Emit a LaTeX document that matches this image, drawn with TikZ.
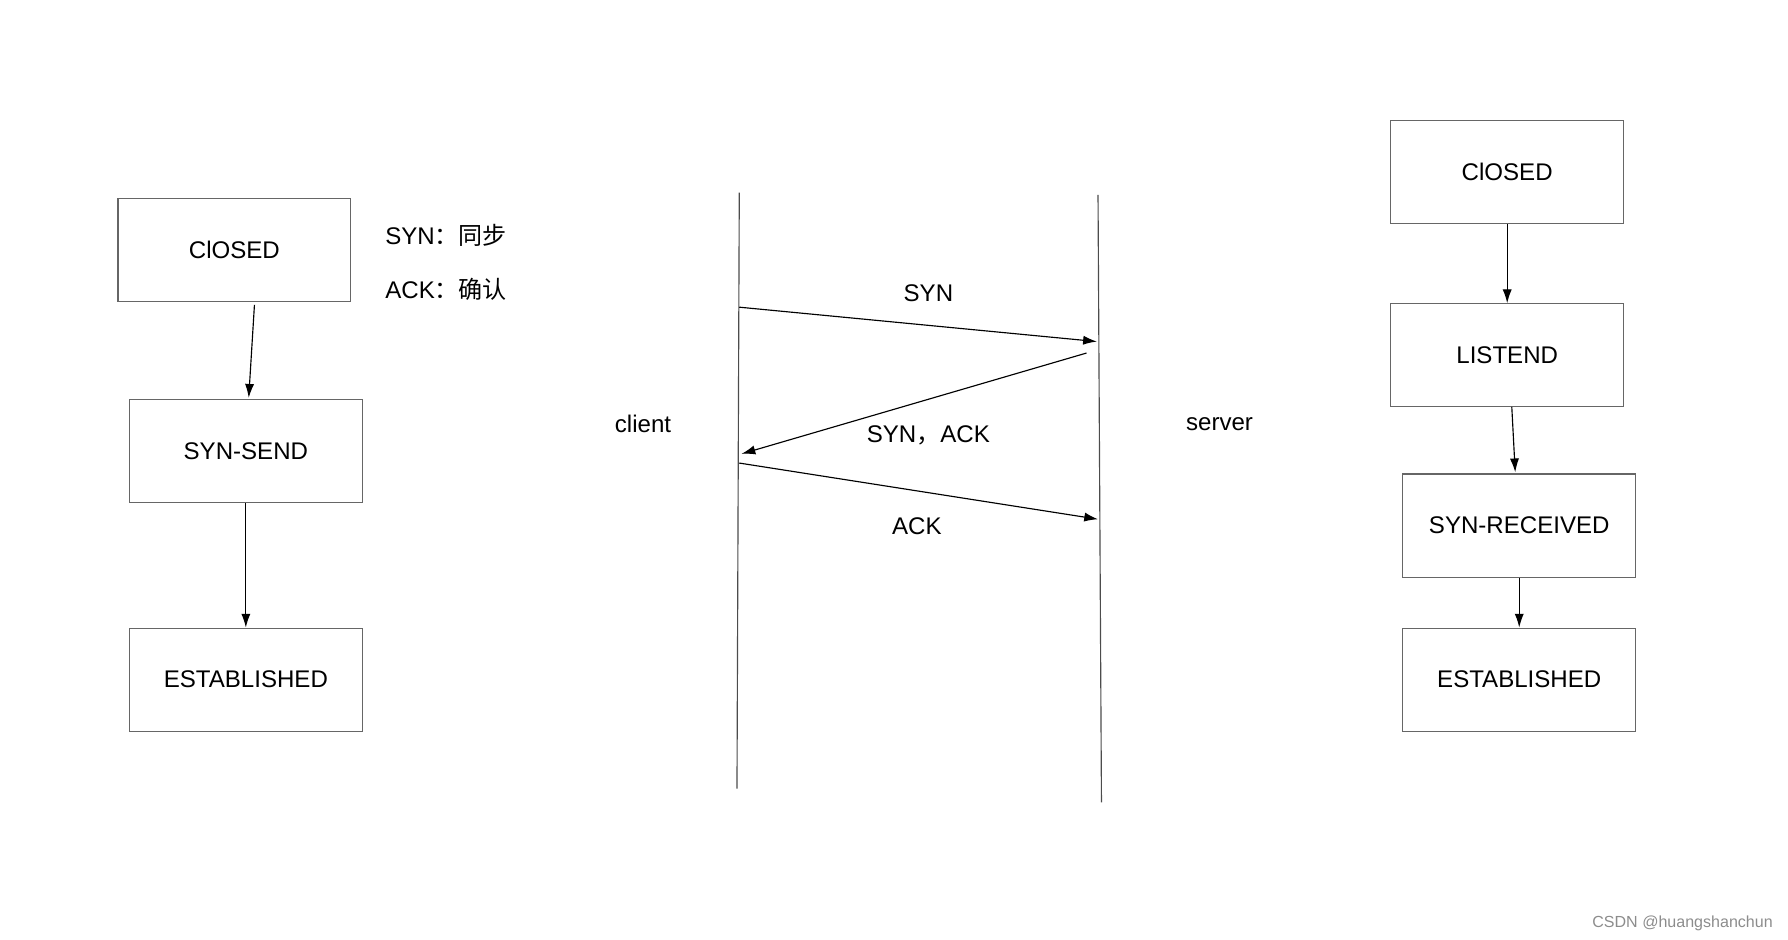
\documentclass[tikz,border=0pt]{standalone}
\usepackage{fontspec}
\setmainfont{Liberation Sans}
\newfontfamily\cjk{Noto Sans CJK SC}
\usetikzlibrary{arrows.meta}
\begin{document}
\begin{tikzpicture}[x=1pt,y=-1pt,
  box/.style={draw=black!60,line width=1pt,minimum width=203pt,minimum height=90pt,inner sep=0pt,font=\fontsize{21}{24}\selectfont},
  lbl/.style={font=\fontsize{21}{24}\selectfont,inner sep=0pt},
  arr/.style={line width=1pt,-{Latex[length=12pt,width=8pt]}},
  ln/.style={line width=1pt,black!70}]
\useasboundingbox (0,0) rectangle (1560,820);
% left
\node[box] (lc) at (204.5,218) {ClOSED};
\node[box] (ls) at (214.5,393.5) {SYN-SEND};
\node[box] (le) at (214.5,593) {ESTABLISHED};
\coordinate (lcs) at (222,266);
\draw[arr] (lcs) -- (217,347);
\draw[arr] (ls.south) -- (le.north);
\node[lbl,anchor=west] (l1) at (336,205) {SYN{\cjk：同步}};
\node[lbl,anchor=west] (l2) at (336,252) {ACK{\cjk：确认}};
% timelines
\coordinate (ct) at (645,168); \coordinate (cb) at (643,688);
\coordinate (st) at (958,170); \coordinate (sb) at (961,700);
\draw[ln] (ct) -- (cb);
\draw[ln] (st) -- (sb);
\coordinate (a1) at (645,268); \coordinate (b1) at (957,298);
\coordinate (a2) at (948,308); \coordinate (b2) at (647,396);
\coordinate (a3) at (645,404); \coordinate (b3) at (958,453);
\draw[arr] (a1) -- (b1);
\draw[arr] (a2) -- (b2);
\draw[arr] (a3) -- (b3);
\node[lbl] (t1) at (810,256) {SYN};
\node[lbl] (t2) at (810,380) {SYN{\cjk，}ACK};
\node[lbl] (t3) at (800,459) {ACK};
\node[lbl] (cl) at (561,370) {client};
\node[lbl] (sv) at (1064,370) {server};
% right
\node[box] (rc) at (1315,150) {ClOSED};
\node[box] (rl) at (1315,310) {LISTEND};
\node[box] (rr) at (1325.5,458.5) {SYN-RECEIVED};
\node[box] (re) at (1325.5,593) {ESTABLISHED};
\draw[arr] (rc.south) -- (rl.north);
\coordinate (rls) at (1319,355);
\draw[arr] (rls) -- (1322,412);
\draw[arr] (rr.south) -- (re.north);
\node[font=\fontsize{14}{16}\selectfont,text=black!45,inner sep=0pt] (wm) at (1468,806) {CSDN @huangshanchun};
\end{tikzpicture}
\end{document}
